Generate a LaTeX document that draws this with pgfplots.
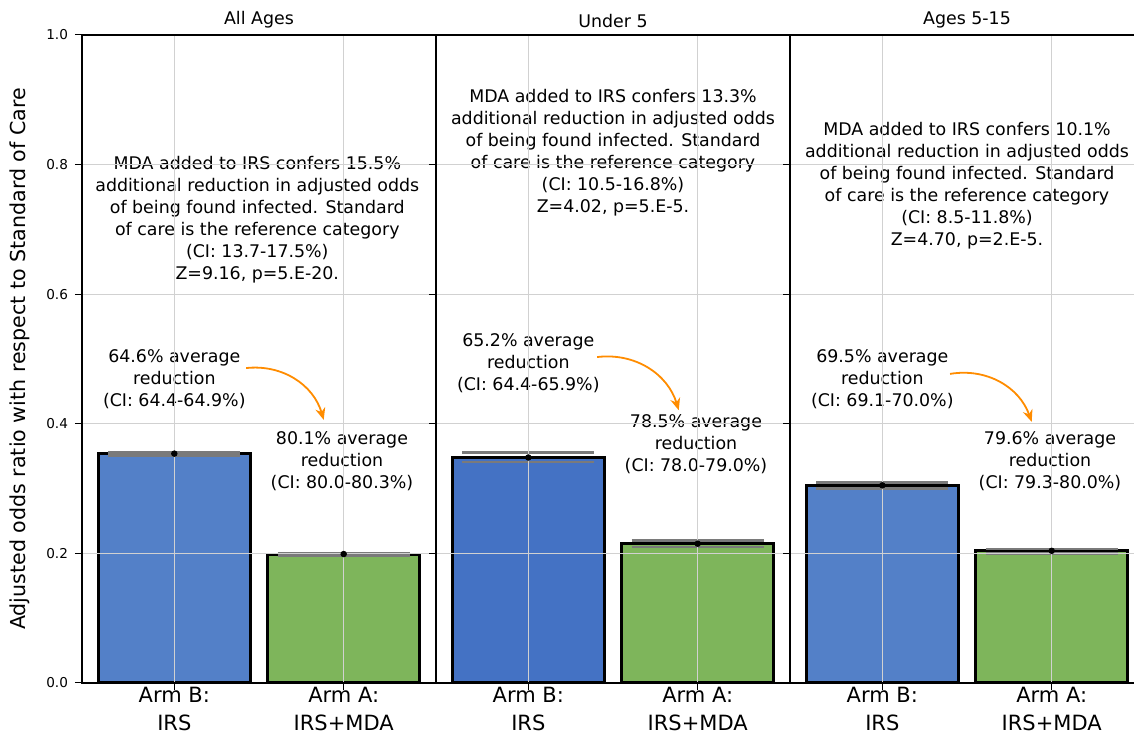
\documentclass[border=0pt]{standalone}
\usepackage{pgfplots}
\pgfplotsset{compat=1.18}
\usepackage{fontspec}
\setmainfont{DejaVu Sans}
\usetikzlibrary{arrows.meta}
\definecolor{barblue}{HTML}{5380C8}
\definecolor{barblueb}{HTML}{4472C4}
\definecolor{bargreen}{HTML}{7EB55B}
\definecolor{arroworange}{HTML}{FF8C00}
\definecolor{capgray}{HTML}{7A7A7A}
\newcommand\annfont{\fontsize{8.7}{11}\selectfont}
\pgfplotsset{
  panel/.style={
    scale only axis, width=177pt, height=324pt,
    anchor=south west,
    xmin=-0.545, xmax=1.545, ymin=0, ymax=1,
    xtick={0,1}, xticklabels={{Arm B:\\IRS},{Arm A:\\IRS+MDA}},
    xticklabel style={align=center, font=\fontsize{10.5}{14}\selectfont, yshift=5pt},
    ytick={0,0.2,0.4,0.6,0.8,1.0},
    yticklabel style={font=\fontsize{6.8}{8}\selectfont},
    /pgf/number format/.cd, fixed, fixed zerofill, precision=1, assume math mode=true,
    /pgfplots/.cd,
    tick align=outside, major tick length=3.5pt,
    tick style={black, line width=0.5pt},
    xtick pos=lower, ytick pos=left,
    grid=major, major grid style={black!18, line width=0.5pt},
    axis line style={black, line width=0.6pt},
    axis on top, clip=false,
    title style={at={(0.5,1)}, anchor=south, yshift=-6pt, font=\fontsize{8.7}{10.5}\selectfont},
    bar width=0.9,
  },
  barstyle/.style={ybar, bar shift=0pt, draw=black, line width=1.5pt},
  errstyle/.style={only marks, mark=*, mark size=1.4pt, black,
    error bars/.cd, y dir=both, y explicit, error mark=|,
    error bar style={line width=0.8pt, black},
    error mark options={capgray, line width=1.3pt, mark size=33pt}},
}
\begin{document}
\begin{tikzpicture}
% Panel 1
\begin{axis}[panel, at={(0pt,0pt)}, title={All Ages},
  ylabel={Adjusted odds ratio with respect to Standard of Care},
  ylabel style={at={(axis description cs:-0.175,0.5)}, anchor=center, font=\fontsize{10.3}{12}\selectfont}]
\addplot[barstyle, fill=barblue] coordinates {(0,0.354)};
\addplot[barstyle, fill=bargreen] coordinates {(1,0.199)};
\addplot[errstyle] coordinates {(0,0.354) += (0,0.002) -= (0,0.003) (1,0.199) += (0,0.001) -= (0,0.002)};
\node[align=center, font=\annfont] at (axis cs:0.49,0.715) {MDA added to IRS confers 15.5\%\\additional reduction in adjusted odds\\of being found infected. Standard\\of care is the reference category\\(CI: 13.7-17.5\%)\\Z=9.16, p=5.E-20.};
\node[align=center, font=\annfont] at (axis cs:0,0.469) {64.6\% average\\reduction\\(CI: 64.4-64.9\%)};
\node[align=center, font=\annfont] at (axis cs:0.99,0.343) {80.1\% average\\reduction\\(CI: 80.0-80.3\%)};
\draw[arroworange, line width=0.9pt, -{Stealth[length=6pt,width=5pt]}] (axis cs:0.424,0.486) to[bend left=40] (axis cs:0.882,0.406);
\end{axis}
% Panel 2
\begin{axis}[panel, at={(177pt,0pt)}, title={Under 5}, yticklabels={}]
\addplot[barstyle, fill=barblueb] coordinates {(0,0.348)};
\addplot[barstyle, fill=bargreen] coordinates {(1,0.215)};
\addplot[errstyle] coordinates {(0,0.348) += (0,0.008) -= (0,0.007) (1,0.215) += (0,0.005) -= (0,0.005)};
\node[align=center, font=\annfont] at (axis cs:0.5,0.818) {MDA added to IRS confers 13.3\%\\additional reduction in adjusted odds\\of being found infected. Standard\\of care is the reference category\\(CI: 10.5-16.8\%)\\Z=4.02, p=5.E-5.};
\node[align=center, font=\annfont] at (axis cs:0,0.494) {65.2\% average\\reduction\\(CI: 64.4-65.9\%)};
\node[align=center, font=\annfont] at (axis cs:0.99,0.369) {78.5\% average\\reduction\\(CI: 78.0-79.0\%)};
\draw[arroworange, line width=0.9pt, -{Stealth[length=6pt,width=5pt]}] (axis cs:0.406,0.503) to[bend left=40] (axis cs:0.888,0.421);
\end{axis}
% Panel 3
\begin{axis}[panel, at={(354pt,0pt)}, title={Ages 5-15}, yticklabels={}]
\addplot[barstyle, fill=barblue] coordinates {(0,0.305)};
\addplot[barstyle, fill=bargreen] coordinates {(1,0.204)};
\addplot[errstyle] coordinates {(0,0.305) += (0,0.004) -= (0,0.005) (1,0.204) += (0,0.003) -= (0,0.004)};
\node[align=center, font=\annfont] at (axis cs:0.5,0.768) {MDA added to IRS confers 10.1\%\\additional reduction in adjusted odds\\of being found infected. Standard\\of care is the reference category\\(CI: 8.5-11.8\%)\\Z=4.70, p=2.E-5.};
\node[align=center, font=\annfont] at (axis cs:0,0.469) {69.5\% average\\reduction\\(CI: 69.1-70.0\%)};
\node[align=center, font=\annfont] at (axis cs:0.99,0.343) {79.6\% average\\reduction\\(CI: 79.3-80.0\%)};
\draw[arroworange, line width=0.9pt, -{Stealth[length=6pt,width=5pt]}] (axis cs:0.40,0.477) to[bend left=40] (axis cs:0.882,0.403);
\end{axis}
\pgfresetboundingbox
\useasboundingbox (-41pt,-25pt) rectangle (526pt,341.5pt);
\end{tikzpicture}
\end{document}
